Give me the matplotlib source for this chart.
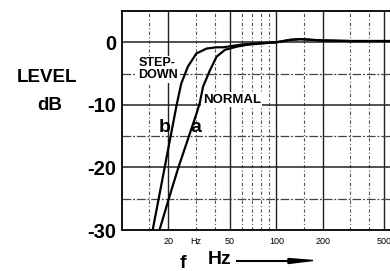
import numpy as np
import matplotlib.pyplot as plt

plt.rcParams['font.family'] = ['Liberation Sans', 'DejaVu Sans']

# curve b (STEP-DOWN)
freq_b = [15.8, 18.9, 22.6, 24.2, 26.7, 30.3, 35.3, 41, 45, 50, 60, 80, 100, 124, 144, 194, 305, 550]
level_b = [-30, -20, -10, -6.6, -3.9, -1.8, -1.0, -0.8, -0.8, -0.65, -0.35, -0.15, 0, 0.4, 0.5, 0.3, 0.2, 0.2]

# curve a (NORMAL)
freq_a = [17.5, 20.1, 23.2, 30.3, 31.9, 33.5, 37.1, 41, 46.5, 55.4, 64.4, 78.7, 100, 124, 144, 194, 305, 550]
level_a = [-30, -25, -20, -11.5, -9.7, -7.1, -4.5, -2.3, -1.2, -0.7, -0.4, -0.2, 0, 0.4, 0.5, 0.3, 0.2, 0.2]

xticks = [20, 30, 50, 100, 200, 500]
xticklabels = ['20', 'Hz', '50', '100', '200', '500']
yticks = [0, -10, -20, -30]

major_f = [20, 50, 100, 200, 500]
minor_f = [15, 30, 40, 60, 70, 80, 90, 150, 300, 400]
major_db = [0, -10, -20]
minor_db = [-5, -15, -25]

W, H = 390, 271
fig = plt.figure(figsize=(W / 100, H / 100), dpi=100)
ax = fig.add_axes([122 / W, 1 - 230 / H, 1 - 122 / W, (230 - 11) / H])

for f in major_f:
    ax.axvline(f, color='#222222', lw=1.0, zorder=1)
for f in minor_f:
    ax.axvline(f, color='#555555', lw=0.8, ls=(0, (3, 2, 1, 2)), zorder=1)
for d in major_db:
    ax.axhline(d, color='#222222', lw=1.1, zorder=1)
for d in minor_db:
    ax.axhline(d, color='#444444', lw=0.9, ls=(0, (7, 1.5, 1.5, 1.5)), zorder=1)

ax.semilogx(freq_b, level_b, color='black', lw=1.6, zorder=3)
ax.semilogx(freq_a, level_a, color='black', lw=1.6, zorder=3)

ax.set_xlim(10, 545)
ax.set_ylim(-30, 5)
ax.set_xticks(xticks)
ax.set_xticklabels(xticklabels, fontsize=6.5)
ax.xaxis.set_minor_locator(plt.NullLocator())
ax.set_yticks(yticks)
ax.set_yticklabels(['0', '-10', '-20', '-30'], fontsize=14.5, fontweight='bold')
ax.tick_params(axis='both', length=0)
ax.tick_params(axis='x', pad=5)
ax.tick_params(axis='y', pad=4)
ax.spines['right'].set_visible(False)
for s in ['left', 'bottom', 'top']:
    ax.spines[s].set_linewidth(1.3)

# labels on curves
box = dict(facecolor='white', edgecolor='none', pad=1.0)
ax.text(17.0, -4.3, 'STEP-\nDOWN', fontsize=9, fontweight='bold', ha='center', va='center',
        linespacing=1.05, zorder=2, bbox=box)
ax.text(51.5, -9.2, 'NORMAL', fontsize=9.5, fontweight='bold', ha='center', va='center',
        zorder=2, bbox=box)
ax.text(19.0, -14.4, 'b', fontsize=14, fontweight='bold', ha='center', va='baseline', zorder=4)
ax.text(30.3, -14.4, 'a', fontsize=14, fontweight='bold', ha='center', va='baseline', zorder=4)

# axis titles
fig.text(47 / W, 1 - 78 / H, 'LEVEL', fontsize=13.5, fontweight='bold', ha='center', va='center')
fig.text(50 / W, 1 - 106 / H, 'dB', fontsize=13.5, fontweight='bold', ha='center', va='center')
fig.text(183 / W, 1 - 263 / H, 'f', fontsize=14, fontweight='bold', ha='center', va='center')
fig.text(220 / W, 1 - 260 / H, 'Hz', fontsize=14, fontweight='bold', ha='center', va='center')
fig.add_artist(plt.Line2D([237 / W, 295 / W], [1 - 261 / H, 1 - 261 / H], color='black', lw=1.5))
fig.add_artist(plt.Polygon([[288 / W, 1 - 258.5 / H], [313 / W, 1 - 260.5 / H], [288 / W, 1 - 263.5 / H]],
                           closed=True, color='black'))

fig.savefig('out.png', dpi=100)
